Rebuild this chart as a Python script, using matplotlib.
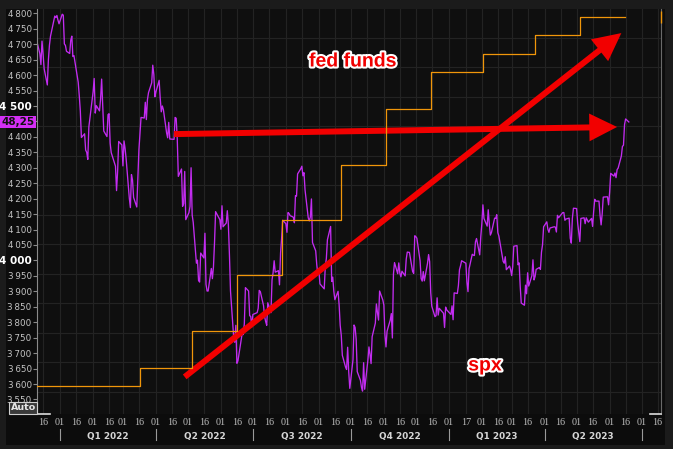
import matplotlib
matplotlib.use("Agg")
import matplotlib.pyplot as plt
import matplotlib.dates as mdates
import matplotlib.patheffects as pe
import matplotlib.transforms as mtransforms
from matplotlib.patches import FancyArrowPatch, Rectangle, ArrowStyle
from matplotlib.lines import Line2D
import pandas as pd
import datetime as dt

# ---------------- data ----------------
spx_2021_12 = [4712, 4669, 4634, 4710, 4669, 4621, 4568, 4649, 4697, 4726, 4791, 4786, 4793, 4778, 4766]
spx_2022_01 = [4797, 4794, 4701, 4696, 4677, 4670, 4713, 4726, 4660, 4663, 4577, 4533, 4483, 4398, 4410, 4357, 4350, 4327, 4432, 4516]
spx_2022_02 = [4546, 4589, 4477, 4501, 4484, 4522, 4587, 4504, 4419, 4401, 4472, 4475, 4380, 4349, 4305, 4226, 4288, 4385, 4374]
spx_2022_03 = [4306, 4387, 4363, 4329, 4201, 4171, 4278, 4260, 4204, 4173, 4262, 4358, 4412, 4463, 4461, 4512, 4456, 4520, 4543, 4575, 4632, 4602, 4530]
spx_2022_04 = [4546, 4583, 4525, 4481, 4500, 4488, 4413, 4397, 4447, 4393, 4392, 4463, 4460, 4394, 4272, 4296, 4175, 4184, 4288, 4132]
spx_2022_05 = [4155, 4175, 4300, 4147, 4123, 3991, 4001, 3935, 3930, 4024, 4008, 4088, 3923, 3901, 3901, 3974, 3941, 3979, 4058, 4158, 4132]
spx_2022_06 = [4101, 4177, 4109, 4121, 4161, 4116, 4018, 3901, 3750, 3735, 3790, 3667, 3675, 3765, 3760, 3796, 3912, 3901, 3821, 3819, 3785]
spx_2022_07 = [3825, 3831, 3845, 3903, 3899, 3854, 3819, 3802, 3790, 3863, 3831, 3937, 3960, 3999, 3962, 3967, 3921, 4024, 4072, 4130]
spx_2022_08 = [4119, 4091, 4155, 4152, 4145, 4140, 4122, 4210, 4208, 4280, 4297, 4305, 4274, 4284, 4228, 4138, 4128, 4141, 4199, 4058, 4031, 3986, 3955]
spx_2022_09 = [3967, 3924, 3908, 3980, 4006, 4067, 4110, 3932, 3946, 3901, 3873, 3900, 3856, 3790, 3758, 3693, 3655, 3647, 3719, 3640, 3586]
spx_2022_10 = [3678, 3791, 3783, 3745, 3640, 3612, 3589, 3577, 3669, 3583, 3677, 3720, 3695, 3666, 3753, 3797, 3859, 3831, 3807, 3901, 3872]
spx_2022_11 = [3856, 3760, 3720, 3771, 3807, 3828, 3749, 3956, 3993, 3957, 3992, 3959, 3947, 3965, 3950, 4004, 4027, 4026, 3964, 3958, 4080]
spx_2022_12 = [4077, 4072, 3999, 3941, 3933, 3964, 3934, 3991, 4019, 3996, 3896, 3852, 3818, 3821, 3879, 3823, 3845, 3829, 3783, 3849, 3840]
spx_2023_01 = [3825, 3853, 3808, 3895, 3893, 3919, 3970, 3983, 3999, 3991, 3929, 3899, 3973, 4020, 4017, 4016, 4060, 4071, 4018, 4077]
spx_2023_02 = [4119, 4180, 4136, 4111, 4164, 4118, 4082, 4090, 4137, 4136, 4148, 4090, 4079, 3997, 3991, 4012, 3970, 3982, 3970]
spx_2023_03 = [3951, 3981, 4046, 4048, 3986, 3992, 3918, 3862, 3855, 3920, 3892, 3960, 3917, 3951, 4002, 3937, 3948, 3971, 3977, 3971, 4027, 4051, 4109]
spx_2023_04 = [4125, 4101, 4091, 4105, 4109, 4108, 4092, 4146, 4138, 4151, 4155, 4155, 4130, 4134, 4137, 4072, 4056, 4136, 4169]
spx_2023_05 = [4168, 4120, 4091, 4061, 4136, 4138, 4119, 4138, 4131, 4124, 4136, 4110, 4159, 4198, 4192, 4192, 4146, 4115, 4151, 4205, 4206, 4180]
spx_2023_06 = [4221, 4282, 4273, 4283, 4268, 4294, 4299, 4338, 4369, 4373, 4440, 4458, 4448.25]

spx_months = [
    ("2021-12-10", "2021-12-31", spx_2021_12), ("2022-01-01", "2022-01-31", spx_2022_01),
    ("2022-02-01", "2022-02-28", spx_2022_02), ("2022-03-01", "2022-03-31", spx_2022_03),
    ("2022-04-01", "2022-04-30", spx_2022_04), ("2022-05-01", "2022-05-31", spx_2022_05),
    ("2022-06-01", "2022-06-30", spx_2022_06), ("2022-07-01", "2022-07-31", spx_2022_07),
    ("2022-08-01", "2022-08-31", spx_2022_08), ("2022-09-01", "2022-09-30", spx_2022_09),
    ("2022-10-01", "2022-10-31", spx_2022_10), ("2022-11-01", "2022-11-30", spx_2022_11),
    ("2022-12-01", "2022-12-31", spx_2022_12), ("2023-01-01", "2023-01-31", spx_2023_01),
    ("2023-02-01", "2023-02-28", spx_2023_02), ("2023-03-01", "2023-03-31", spx_2023_03),
    ("2023-04-01", "2023-04-30", spx_2023_04), ("2023-05-01", "2023-05-31", spx_2023_05),
    ("2023-06-01", "2023-06-19", spx_2023_06),
]
market_holidays = ["2021-12-24", "2022-01-17", "2022-02-21", "2022-04-15", "2022-05-30",
                   "2022-06-20", "2022-07-04", "2022-09-05", "2022-11-24", "2022-12-26",
                   "2023-01-02", "2023-01-16", "2023-02-20", "2023-04-07", "2023-05-29"]

fed_dates = ["2021-12-10", "2022-03-17", "2022-05-05", "2022-06-16", "2022-07-28", "2022-09-22",
             "2022-11-03", "2022-12-15", "2023-02-02", "2023-03-23", "2023-05-04", "2023-06-15"]
fed_rates = [0.08, 0.33, 0.83, 1.58, 2.33, 3.08, 3.83, 4.33, 4.58, 4.83, 5.08, 5.08]

y_ticks = list(range(3550, 4801, 50))
quarters = ["Q1 2022", "Q2 2022", "Q3 2022", "Q4 2022", "Q1 2023", "Q2 2023"]
quarter_edges = ["2022-01-01", "2022-04-01", "2022-07-01", "2022-10-01", "2023-01-01", "2023-04-01", "2023-07-01"]

# ---------------- build series ----------------
hol = pd.to_datetime(market_holidays)
spx_dates, spx_vals = [], []
for start, end, vals in spx_months:
    days = pd.bdate_range(start, end)
    days = days[~days.isin(hol)]
    n = min(len(days), len(vals))
    spx_dates.extend(list(days[:n]))
    spx_vals.extend(vals[:n])
spx_dates = pd.to_datetime(spx_dates)
fed_d = pd.to_datetime(fed_dates)

# ---------------- figure ----------------
W, H = 673, 449
fig = plt.figure(figsize=(W / 100, H / 100), dpi=100, facecolor="#1b1b1b")
fig.patches.append(Rectangle((6 / W, 1 - 445 / H), (665 - 6) / W, (445 - 9) / H,
                             transform=fig.transFigure, facecolor="#0c0c0c", edgecolor="none", zorder=-10))

L, R, T, B = 37.3, 661, 9, 414
ax = fig.add_axes([L / W, 1 - B / H, (R - L) / W, (B - T) / H])
ax.set_facecolor("#0f0f0f")

jan1 = mdates.date2num(dt.datetime(2022, 1, 1))
pxday = 1.065
ax.set_xlim(jan1 - (60.1 - L) / pxday, jan1 + (R - 60.1) / pxday)
pxunit = 0.30892
ax.set_ylim(4800 - (B - 13.3) / pxunit, 4800 + (13.3 - T) / pxunit)

# fed funds axis (hidden scale)
axf = ax.twinx()
f_lo = 0.08 - (B - 386) / 73.8
f_hi = 5.08 + (17 - T) / 73.8
axf.set_ylim(f_lo, f_hi)
axf.set_yticks([])
for s in axf.spines.values():
    s.set_visible(False)

# horizontal grid (fed-funds scale, every 0.4)
for k in range(0, 13):
    r = 0.4 * k
    f = (r - f_lo) / (f_hi - f_lo)
    ax.plot([0, 1], [f, f], transform=ax.transAxes, color="#232323", lw=0.8, zorder=0.5)

# x ticks
ticks = []
for y in (2021, 2022, 2023):
    for m in range(1, 13):
        for d in (1, 16):
            day = dt.datetime(y, m, d)
            if dt.datetime(2021, 12, 16) <= day <= dt.datetime(2023, 7, 16):
                if day == dt.datetime(2023, 1, 16):
                    day = dt.datetime(2023, 1, 17)
                ticks.append(day)
ax.set_xticks(mdates.date2num(ticks))
ax.set_xticklabels([t.strftime("%d") for t in ticks], family="Liberation Serif", fontsize=7.3, color="#bdbdbd")
ax.tick_params(axis="x", length=0, pad=3)
ax.grid(axis="x", color="#232323", lw=0.8, zorder=0.5)
ax.set_axisbelow(True)

# y ticks
ax.set_yticks(y_ticks)
labels = []
for v in y_ticks:
    if v == 4450:
        labels.append("")
    elif v in (4000, 4500):
        labels.append(f"{v // 1000} {v % 1000:03d}")
    else:
        labels.append(f"{v // 1000}\u2009{v % 1000:03d}")
ax.set_yticklabels(labels)
ax.tick_params(axis="y", length=3, width=0.8, color="#8a8a8a", pad=1, labelsize=6.3, labelcolor="#c4c4c4")
for lab, v in zip(ax.get_yticklabels(), y_ticks):
    if v in (4000, 4500):
        lab.set_fontweight("bold")
        lab.set_color("#ffffff")
        lab.set_fontsize(7.5)

for name, s in ax.spines.items():
    s.set_visible(False)
ax.spines["left"].set_visible(True)
ax.spines["left"].set_color("#8a8a8a")
ax.spines["right"].set_visible(True)
ax.spines["right"].set_color("#6a6a6a")

# bottom white handles
ax.plot([0, 0.02], [0, 0], transform=ax.transAxes, color="#dddddd", lw=1.2, clip_on=False, zorder=5)
ax.plot([0.982, 1], [0, 0], transform=ax.transAxes, color="#dddddd", lw=1.2, clip_on=False, zorder=5)

# series
ax.plot(spx_dates, spx_vals, color="#c22cf0", lw=0.95, zorder=2)
axf.plot(fed_d, fed_rates, drawstyle="steps-post", color="#f0960a", lw=0.9, zorder=2)
axf.plot([1.0], [fed_rates[-1]], transform=mtransforms.blended_transform_factory(axf.transAxes, axf.transData),
         marker="|", markersize=8, color="#f0960a", clip_on=False)

# last value box
last_label = f"{spx_vals[-1]:.2f}".replace(".", ",")[-5:]
ax.text(-0.004, spx_vals[-1], last_label, transform=mtransforms.blended_transform_factory(ax.transAxes, ax.transData),
        ha="right", va="center", fontsize=7.5, fontweight="bold", color="#111111",
        bbox=dict(boxstyle="square,pad=0.12", facecolor="#d42ff5", edgecolor="none"), clip_on=False)

# quarter labels
blend = mtransforms.blended_transform_factory(ax.transData, ax.transAxes)
qe = mdates.date2num(pd.to_datetime(quarter_edges))
for i, q in enumerate(quarters):
    ax.text((qe[i] + qe[i + 1]) / 2, -(436 - B) / (B - T), q, transform=blend, ha="center", va="center",
            fontsize=6.4, fontweight="bold", color="#d6d6d6")
for x in qe:
    ax.add_line(Line2D([x, x], [-(429 - B) / (B - T), -(440 - B) / (B - T)], transform=blend,
                       color="#9a9a9a", lw=0.8, clip_on=False))

# arrows
def arrow(d0, v0, d1, v1):
    p = FancyArrowPatch((mdates.date2num(dt.datetime(*d0)), v0), (mdates.date2num(dt.datetime(*d1)), v1),
                        arrowstyle=ArrowStyle.Simple(head_length=20, head_width=20, tail_width=4.3),
                        mutation_scale=1, shrinkA=0, shrinkB=0, color="#f20000", lw=0, zorder=6)
    ax.add_patch(p)

arrow((2022, 4, 18), 4409, (2023, 6, 8), 4432)
arrow((2022, 4, 28), 3623, (2023, 6, 12), 4736)

# annotations
outline = [pe.withStroke(linewidth=3, foreground="white")]
ax.text((353 - L) / (R - L), (B - 62) / (B - T), "fed funds", transform=ax.transAxes, ha="center", va="center",
        fontsize=14, fontweight="bold", family="Liberation Sans", color="#f00000", path_effects=outline, zorder=7)
ax.text((485 - L) / (R - L), (B - 366) / (B - T), "spx", transform=ax.transAxes, ha="center", va="center",
        fontsize=14, fontweight="bold", family="Liberation Sans", color="#f00000", path_effects=outline, zorder=7)

# Auto button
fig.text(10.5 / W, 1 - 408 / H, "Auto", ha="left", va="center", fontsize=6.8, fontweight="bold", color="#e6e6e6",
         bbox=dict(boxstyle="square,pad=0.15", facecolor="#3a3a3a", edgecolor="#cfcfcf", lw=0.8))

fig.savefig("out.png", dpi=100, facecolor=fig.get_facecolor())
